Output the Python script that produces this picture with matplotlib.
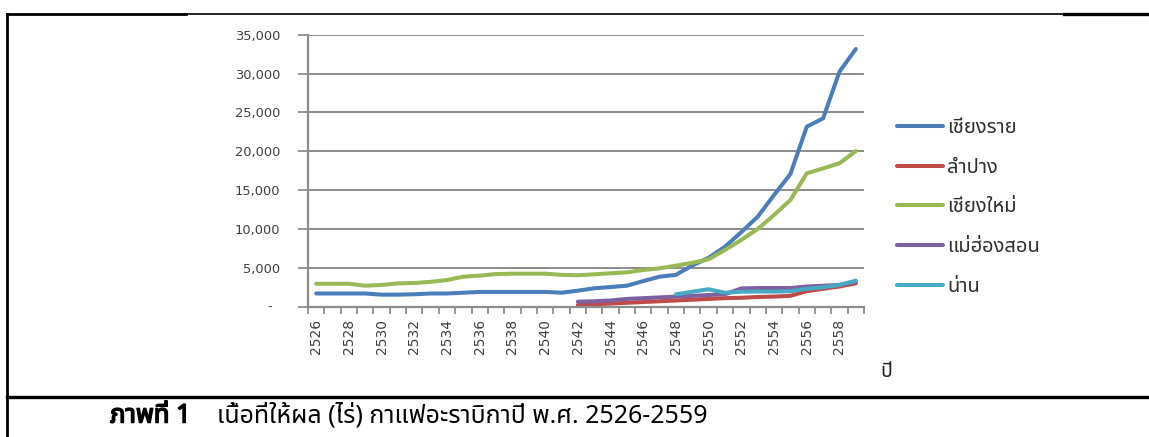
"""Arabica coffee bearing area (rai) by province, 2526-2559 B.E."""

import matplotlib

matplotlib.use("Agg")

import matplotlib.patheffects as pe
import matplotlib.pyplot as plt
from matplotlib import font_manager
from matplotlib.ft2font import FT2Font
from matplotlib.lines import Line2D
from matplotlib.ticker import FixedLocator, FuncFormatter

years = list(range(2526, 2560))

chiang_rai = [1700, 1700, 1700, 1700, 1550, 1550, 1600, 1700, 1700, 1800,
              1900, 1900, 1900, 1900, 1900, 1800, 2060, 2370, 2530, 2700,
              3300, 3860, 4100, 5300, 6300, 7720, 9600, 11580, 14370, 17080,
              23160, 24240, 30240, 33160]
lampang = [None] * 16 + [220, 300, 400, 500, 600, 700, 800, 900, 1000, 1100,
                         1150, 1250, 1300, 1400, 2000, 2300, 2600, 3000]
chiang_mai = [2950, 2950, 2950, 2700, 2800, 3000, 3050, 3200, 3430, 3860,
              4000, 4200, 4250, 4250, 4250, 4100, 4050, 4170, 4300, 4420,
              4720, 4940, 5280, 5650, 6100, 7300, 8600, 10000, 11800, 13730,
              17160, 17800, 18450, 20030]
mae_hong_son = [None] * 16 + [650, 700, 800, 1000, 1100, 1200, 1300, 1400,
                              1500, 1600, 2350, 2400, 2400, 2400, 2600, 2700,
                              2800, 3200]
nan = [None] * 22 + [1590, 1930, 2240, 1800, 1930, 1950, 1950, 2000, 2300,
                     2500, 2800, 3350]

series_names = ["เชียงราย", "ลำปาง", "เชียงใหม่", "แม่ฮ่องสอน", "น่าน"]
series_values = [chiang_rai, lampang, chiang_mai, mae_hong_son, nan]
series_colors = ["#4A7EBB", "#BE4B48", "#98B954", "#7D60A0", "#46AAC5"]

y_ticks = [0, 5000, 10000, 15000, 20000, 25000, 30000, 35000]
caption_head = "ภาพที่ 1"
caption_body = "เนื้อที่ให้ผล (ไร่) กาแฟอะราบิกาปี พ.ศ. 2526-2559"
x_title = "ปี"


def thai_family():
    """Return the first installed family that can draw Thai letters."""
    preferred = ["Noto Sans Thai", "Noto Sans Thai Looped", "Tahoma",
                 "Loma", "Garuda", "Norasi", "Sawasdee", "Leelawadee UI"]
    found = {}
    for entry in font_manager.fontManager.ttflist:
        try:
            if 0x0E40 in FT2Font(entry.fname).get_charmap():
                found.setdefault(entry.name, entry.fname)
        except Exception:
            continue
    for name in preferred:
        if name in found:
            return name
    if found:
        return sorted(found)[0]
    return "DejaVu Sans"


THAI = [thai_family(), "DejaVu Sans"]
GRID = "#8C8C8C"
TEXT = "#404040"
W, H = 1149, 437

fig = plt.figure(figsize=(W / 100, H / 100), dpi=100)
ax = fig.add_axes([308 / W, 130.3 / H, 556 / W, 272 / H])

x = list(range(len(years)))
for name, values, color in zip(series_names, series_values, series_colors):
    pts = [(i, v) for i, v in zip(x, values) if v is not None]
    ax.plot([p[0] for p in pts], [p[1] for p in pts], color=color, lw=2.9,
            solid_capstyle="round", solid_joinstyle="round", label=name)

ax.set_xlim(-0.5, len(years) - 0.5)
ax.set_ylim(0, 35000)
ax.set_yticks(y_ticks)
ax.yaxis.set_major_formatter(
    FuncFormatter(lambda v, _: "" if v == 0 else f"{int(v):,}"))
ax.yaxis.grid(True, color=GRID, lw=1.4)
ax.set_axisbelow(True)
# accounting-style dash for zero, sitting left of the right-aligned numbers
ax.text(-38 / 556, 0, "-", transform=ax.get_yaxis_transform(), ha="center",
        va="center", fontsize=9.4, color=TEXT)

# category labels every second year, tick marks between categories
ax.xaxis.set_major_locator(FixedLocator(x[::2]))
ax.set_xticklabels([str(y) for y in years[::2]], rotation=90,
                   family=["Liberation Sans Narrow", "DejaVu Sans"],
                   fontsize=10, color=TEXT)
ax.xaxis.set_minor_locator(FixedLocator([i - 0.5 for i in range(len(years) + 1)]))
ax.tick_params(axis="x", which="major", length=0, pad=9)
ax.tick_params(axis="x", which="minor", length=5, width=1.3, color=GRID)
ax.tick_params(axis="y", length=7, width=1.3, color=GRID, labelsize=9.4,
               labelcolor=TEXT, pad=13)

for side in ("top", "right"):
    ax.spines[side].set_visible(False)
for side in ("left", "bottom"):
    ax.spines[side].set_color(GRID)
    ax.spines[side].set_linewidth(1.6)

leg = fig.legend(loc="upper left", bbox_to_anchor=(897 / W, 1 - 118 / H),
                 frameon=False, prop={"family": THAI, "size": 14.5},
                 handlelength=2.3, handletextpad=0.2, labelspacing=0.98,
                 borderaxespad=0, borderpad=0)
for text in leg.get_texts():
    text.set_color("#303030")

fig.text(886 / W, 1 - 372 / H, x_title, family=THAI, fontsize=14,
         ha="center", va="center", color="#202020")

# outer frame of the figure box
frame = [((7, 186), (14, 14), 2.0), ((186, 1064), (14, 14), 1.2),
         ((1064, 1148), (14, 14), 2.4), ((7, 7), (14, 437), 2.0),
         ((7, 1149), (397, 397), 2.4)]
for xs, ys, lw in frame:
    fig.add_artist(Line2D([v / W for v in xs], [1 - v / H for v in ys],
                          color="black", lw=lw))

fig.text(110 / W, 1 - 416 / H, caption_head, family=THAI, fontsize=18.5,
         fontweight="bold", ha="left", va="center", color="black",
         path_effects=[pe.withStroke(linewidth=1.1, foreground="black")])
fig.text(217 / W, 1 - 416 / H, caption_body, family=THAI, fontsize=18,
         ha="left", va="center", color="black")

fig.savefig("out.png", dpi=100)
